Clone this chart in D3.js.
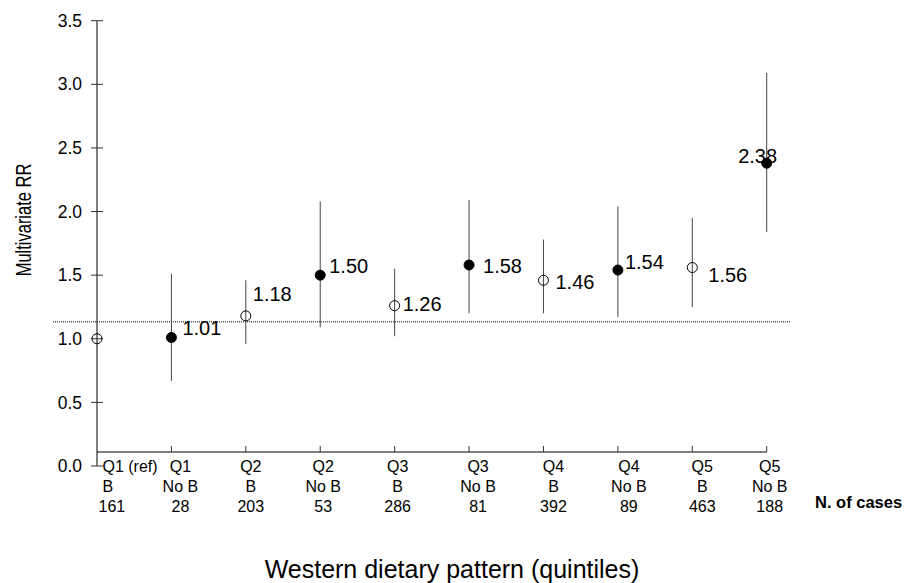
<!DOCTYPE html>
<html>
<head>
<meta charset="utf-8">
<script src="https://cdn.jsdelivr.net/npm/d3@7"></script>
<style>
  html, body { margin: 0; padding: 0; background: #fff; }
  svg { display: block; font-family: "Liberation Sans", Arial, sans-serif; }
</style>
</head>
<body>
<svg id="chart" width="904" height="583"></svg>
<script>
// ---- data ----
const quintiles = ["Q1 (ref)", "Q1", "Q2", "Q2", "Q3", "Q3", "Q4", "Q4", "Q5", "Q5"];
const groups    = ["B", "No B", "B", "No B", "B", "No B", "B", "No B", "B", "No B"];
const cases     = [161, 28, 203, 53, 286, 81, 392, 89, 463, 188];
const rr        = [1.00, 1.01, 1.18, 1.50, 1.26, 1.58, 1.46, 1.54, 1.56, 2.38];
const lower     = [null, 0.67, 0.96, 1.09, 1.02, 1.20, 1.20, 1.17, 1.25, 1.84];
const upper     = [null, 1.51, 1.46, 2.08, 1.55, 2.09, 1.78, 2.04, 1.95, 3.09];
const filled    = [false, true, false, true, false, true, false, true, false, true];
const yTicks    = [0, 0.5, 1.0, 1.5, 2.0, 2.5, 3.0, 3.5];
const refLine   = 1.133;

// ---- layout (label placement offsets, px) ----
const valueLabelOffset = [null, [11, -9], [7, -22], [9, -9.5], [8, -2], [14, 1], [12, 1.5], [7, -8], [16, 7], [-28.5, -7]];
const catLabelDx = [null, 9, 5, 3, 3, 9, 10, 11, 10, 3];

const svg = d3.select("#chart");
const idx = d3.range(quintiles.length);

const x = d3.scalePoint().domain(idx).range([97, 766.7]);
const y = d3.scaleLinear().domain([0, 3.5]).range([466, 20.7]);

const axisX = 97;
const xAxisY = 452;

// dotted reference line
svg.append("line")
  .attr("x1", 53).attr("x2", 790)
  .attr("y1", y(refLine)).attr("y2", y(refLine))
  .attr("stroke", "#000").attr("stroke-width", 1)
  .attr("stroke-dasharray", "1,1");

// Y axis
const yAxisG = svg.append("g").attr("transform", `translate(${axisX},0)`);
yAxisG.append("line")
  .attr("x1", 0).attr("x2", 0)
  .attr("y1", y(3.5)).attr("y2", y(0))
  .attr("stroke", "#000").attr("stroke-width", 1);
yAxisG.selectAll("line.tick").data(yTicks).enter().append("line")
  .attr("class", "tick")
  .attr("x1", -6).attr("x2", 6)
  .attr("y1", d => y(d)).attr("y2", d => y(d))
  .attr("stroke", "#333").attr("stroke-width", 1);
yAxisG.selectAll("text.tl").data(yTicks).enter().append("text")
  .attr("class", "tl")
  .attr("x", -15).attr("y", d => y(d))
  .attr("dy", "0.35em")
  .attr("text-anchor", "end")
  .attr("font-size", 17.5)
  .text(d3.format(".1f"));

// X axis
svg.append("line")
  .attr("x1", axisX).attr("x2", x(9))
  .attr("y1", xAxisY).attr("y2", xAxisY)
  .attr("stroke", "#000").attr("stroke-width", 1);
svg.selectAll("line.xt").data(idx.slice(1)).enter().append("line")
  .attr("class", "xt")
  .attr("x1", d => x(d)).attr("x2", d => x(d))
  .attr("y1", xAxisY - 6).attr("y2", xAxisY)
  .attr("stroke", "#333").attr("stroke-width", 1);

// category labels
const rows = [quintiles, groups, cases];
const rowBase = [472, 492, 512];
rows.forEach((arr, r) => {
  svg.selectAll(null).data(idx).enter().append("text")
    .attr("x", d => d === 0 ? x(d) + (r === 2 ? 1.5 : 5.5) : x(d) + catLabelDx[d])
    .attr("y", rowBase[r])
    .attr("text-anchor", d => d === 0 ? "start" : "middle")
    .attr("font-size", 16)
    .text(d => arr[d]);
});
svg.append("text")
  .attr("x", 815).attr("y", 508)
  .attr("font-size", 16.5).attr("font-weight", "bold")
  .text("N. of cases");

// CI lines
svg.selectAll("line.ci").data(idx.filter(i => lower[i] != null)).enter().append("line")
  .attr("class", "ci")
  .attr("x1", d => x(d)).attr("x2", d => x(d))
  .attr("y1", d => y(upper[d])).attr("y2", d => y(lower[d]))
  .attr("stroke", "#444").attr("stroke-width", 1);

// points
svg.selectAll("circle.pt").data(idx).enter().append("circle")
  .attr("class", "pt")
  .attr("cx", d => x(d)).attr("cy", d => y(rr[d]))
  .attr("r", 5)
  .attr("fill", d => filled[d] ? "#000" : "none")
  .attr("stroke", "#000").attr("stroke-width", 1);

// value labels
svg.selectAll("text.val").data(idx.filter(i => valueLabelOffset[i])).enter().append("text")
  .attr("class", "val")
  .attr("x", d => x(d) + valueLabelOffset[d][0])
  .attr("y", d => y(rr[d]) + valueLabelOffset[d][1])
  .attr("dy", "0.35em")
  .attr("font-size", 20)
  .text(d => d3.format(".2f")(rr[d]));

// axis titles
svg.append("text")
  .attr("transform", "translate(31,220) rotate(-90) scale(0.75,1)")
  .attr("text-anchor", "middle")
  .attr("font-size", 22)
  .text("Multivariate RR");
svg.append("text")
  .attr("x", 452).attr("y", 578)
  .attr("text-anchor", "middle")
  .attr("font-size", 25)
  .text("Western dietary pattern (quintiles)");
</script>
</body>
</html>
